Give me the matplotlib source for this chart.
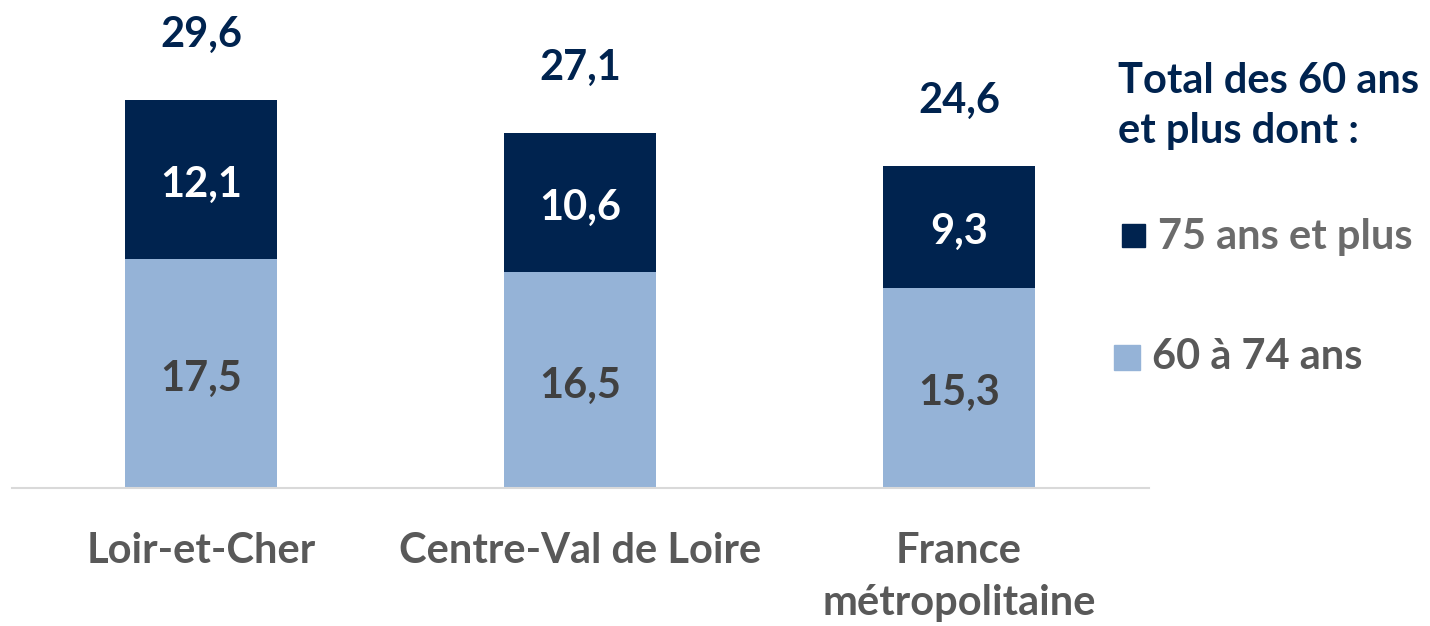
import matplotlib.pyplot as plt
from matplotlib.patches import Rectangle

# Data
categories = ['Loir-et-Cher', 'Centre-Val de Loire', 'France\nmétropolitaine']
age_60_74 = [17.5, 16.5, 15.3]
age_75_plus = [12.1, 10.6, 9.3]
totals = [29.6, 27.1, 24.6]

dark = '#00234F'
light = '#95B3D7'
gray = '#595959'

plt.rcParams['font.family'] = ['Lato', 'DejaVu Sans']
plt.rcParams['font.weight'] = 'bold'

W, H = 1430, 626
fig = plt.figure(figsize=(W / 100, H / 100), dpi=100)
# axes placed in pixel terms: baseline at y=488 from top
ax = fig.add_axes([11.5 / W, (H - 488) / H, 1137 / W, 0.65])
ax.set_xlim(-0.5, 2.5)
ax.set_ylim(0, 0.65 * H / 13.1)

x = range(len(categories))
ax.bar(x, age_60_74, width=0.4, color=light)
ax.bar(x, age_75_plus, width=0.4, bottom=age_60_74, color=dark)

fs = 30
for i in x:
    ax.annotate(f'{age_60_74[i]:.1f}'.replace('.', ','), (i, age_60_74[i] / 2),
                xytext=(0, -4), textcoords='offset points',
                ha='center', va='center', fontsize=fs, fontweight='bold', color='#404040')
    ax.annotate(f'{age_75_plus[i]:.1f}'.replace('.', ','), (i, age_60_74[i] + age_75_plus[i] / 2),
                xytext=(0, -4), textcoords='offset points',
                ha='center', va='center', fontsize=fs, fontweight='bold', color='white')
    ax.annotate(f'{totals[i]:.1f}'.replace('.', ','), (i, totals[i]),
                xytext=(0, 47), textcoords='offset points', ha='center', va='center',
                fontsize=fs, fontweight='bold', color=dark, annotation_clip=False)

for s in ['top', 'right', 'left']:
    ax.spines[s].set_visible(False)
ax.spines['bottom'].set_color('#D9D9D9')
ax.spines['bottom'].set_linewidth(1.5)
ax.set_yticks([])
ax.set_xticks(list(x))
ax.set_xticklabels(categories, fontsize=fs, fontweight='bold', color=gray, linespacing=1.45)
ax.tick_params(axis='x', length=0, pad=32)
for lbl in ax.get_xticklabels():
    lbl.set_verticalalignment('top')

# Legend drawn by hand to the right
fig.text(1118 / W, 1 - 106 / H, 'Total des 60 ans\net plus dont :', fontsize=fs,
         fontweight='bold', color=dark, ha='left', va='center', linespacing=1.4)
fig.patches.append(Rectangle((1122 / W, 1 - 247 / H), 23 / W, 23 / H,
                             transform=fig.transFigure, color=dark))
fig.text(1158 / W, 1 - 237 / H, '75 ans et plus', fontsize=fs, fontweight='bold',
         color='#6B6B6B', ha='left', va='center')
fig.patches.append(Rectangle((1114 / W, 1 - 370 / H), 26 / W, 25 / H,
                             transform=fig.transFigure, color=light))
fig.text(1152 / W, 1 - 357 / H, '60 à 74 ans', fontsize=fs, fontweight='bold',
         color=gray, ha='left', va='center')

fig.savefig('out.png', dpi=100)
